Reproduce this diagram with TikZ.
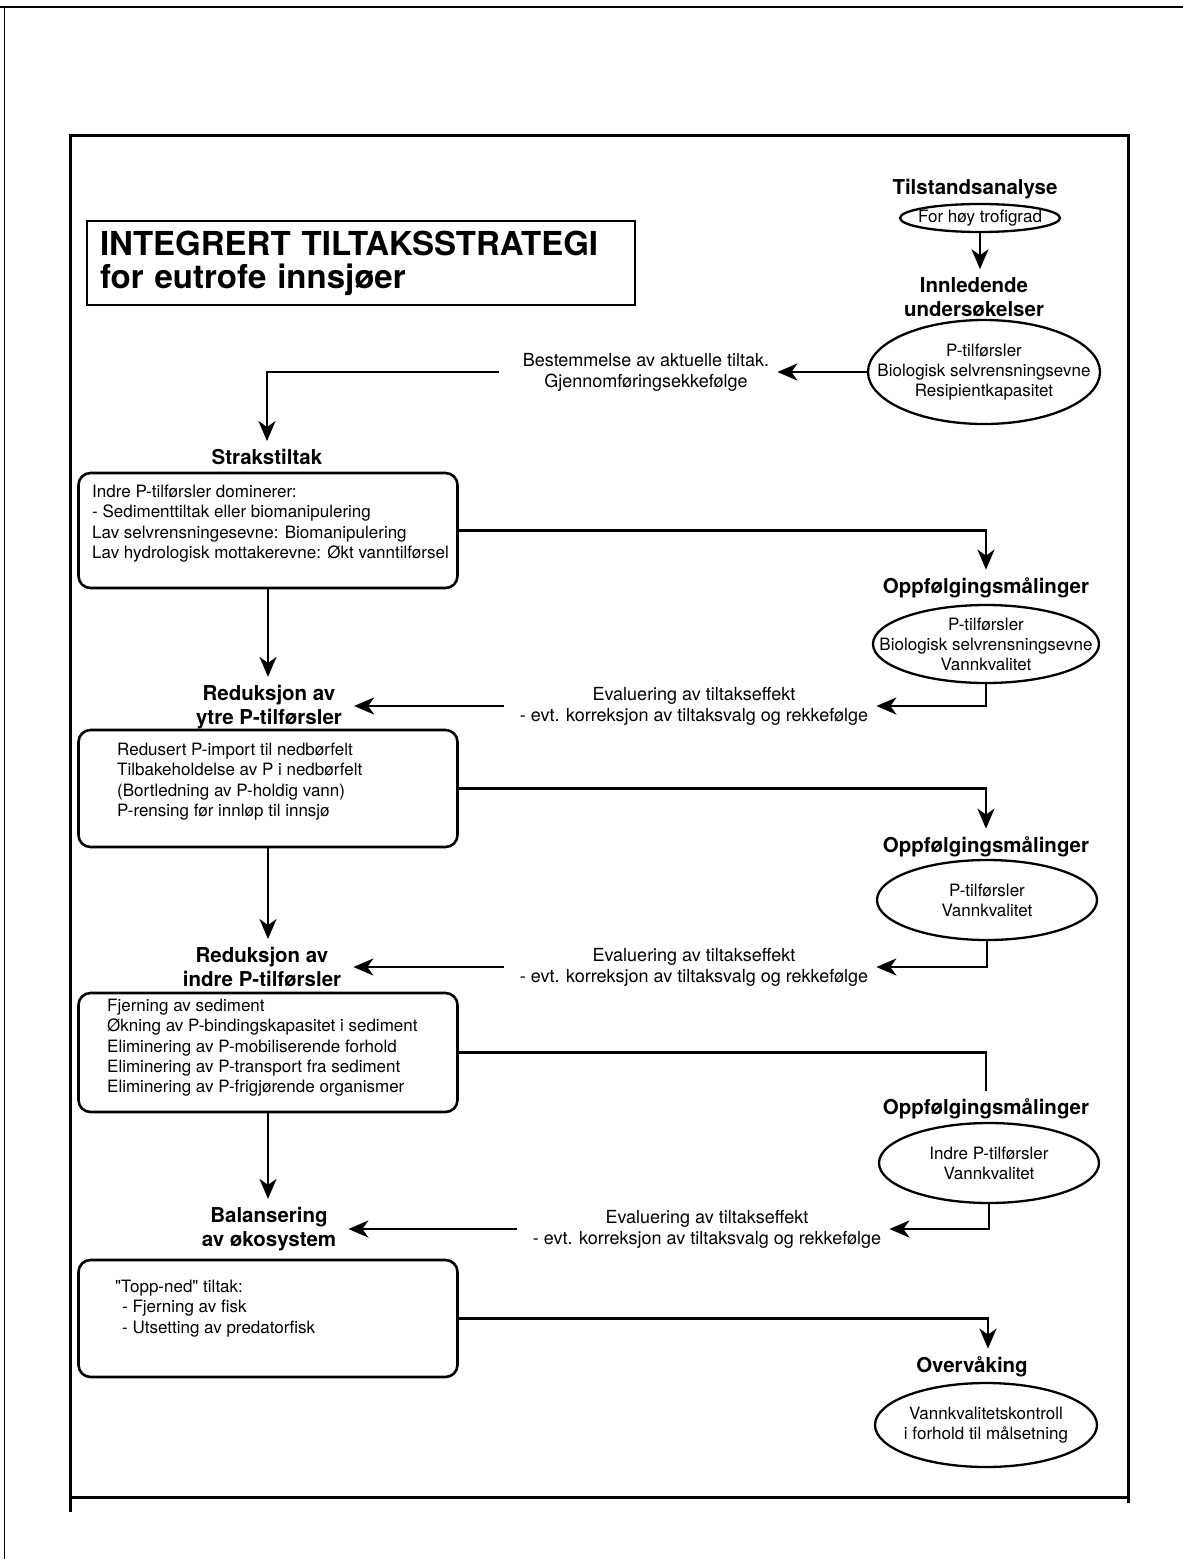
\documentclass[tikz,border=0pt]{standalone}
\usepackage{fontspec}
\setmainfont{TeX Gyre Heros}
\usetikzlibrary{arrows.meta,shapes.geometric}

\tikzset{
  conn/.style={line width=2.4pt},
  arr/.style={conn,-{Stealth[length=20pt,width=17pt,inset=6pt]}},
  ramme/.style={line width=3pt},
  kopf/.style={font=\bfseries\fontsize{20.5}{24}\selectfont, align=center, inner xsep=12pt, inner ysep=8pt},
  oval/.style={draw, ellipse, line width=2.3pt, inner sep=0pt},
  ovaltext/.style={align=center, inner sep=0pt, font=\fontsize{17}{20}\selectfont},
  tiltak/.style={draw, rounded corners=12pt, line width=2.6pt, minimum width=379pt},
  liste/.style={align=left, anchor=north west, inner sep=0pt, font=\fontsize{17}{20.3}\selectfont},
  merknad/.style={align=center, inner xsep=8pt, font=\fontsize{18}{21}\selectfont},
  tittel/.style={draw, line width=2pt, anchor=north west, minimum width=548pt, minimum height=84pt,
    text width=522pt, inner xsep=13pt, align=left, font=\bfseries\fontsize{33}{33}\selectfont}
}

\begin{document}
\begin{tikzpicture}[x=1pt,y=-1pt]
\useasboundingbox (0,0) rectangle (1183,1559);

% page and frame
\draw[line width=1.4pt] (0,7) -- (1183,7);
\draw[line width=1pt] (4,7) -- (4,1559);
\draw[ramme] (70,1512) -- (70,135) -- (1128,135) -- (1128,1503);
\draw[ramme] (70,1497) -- (1128,1497);

\node[tittel] (tittel) at (86,220) {INTEGRERT TILTAKSSTRATEGI\\for eutrofe innsjøer};

% right column
\node[kopf] (tilst) at (975,189) {Tilstandsanalyse};
\node[oval, minimum width=160pt, minimum height=28pt] (trofi) at (980,218) {};
\node[ovaltext] (trofit) at (trofi) {For høy trofigrad};
\node[kopf] (innl) at (974,297) {Innledende\\undersøkelser};
\node[oval, minimum width=232pt, minimum height=104pt] (innlo) at (984,372) {};
\node[ovaltext] (innlt) at (innlo) {P-tilførsler\\Biologisk selvrensningsevne\\Resipientkapasitet};
\node[merknad] (bestem) at (646,372) {Bestemmelse av aktuelle tiltak.\\Gjennomføringsekkefølge};

\node[kopf] (oppf1) at (986,588) {Oppfølgingsmålinger};
\node[oval, minimum width=226pt, minimum height=78pt] (oppf1o) at (986,644) {};
\node[ovaltext] (oppf1t) at (oppf1o) {P-tilførsler\\Biologisk selvrensningsevne\\Vannkvalitet};
\node[merknad] (eval1) at (694,706) {Evaluering av tiltakseffekt\\- evt. korreksjon av tiltaksvalg og rekkefølge};

\node[kopf] (oppf2) at (986,847) {Oppfølgingsmålinger};
\node[oval, minimum width=220pt, minimum height=80pt] (oppf2o) at (987,900) {};
\node[ovaltext] (oppf2t) at (oppf2o) {P-tilførsler\\Vannkvalitet};
\node[merknad] (eval2) at (694,967) {Evaluering av tiltakseffekt\\- evt. korreksjon av tiltaksvalg og rekkefølge};

\node[kopf] (oppf3) at (986,1109) {Oppfølgingsmålinger};
\node[oval, minimum width=220pt, minimum height=80pt] (oppf3o) at (989,1163) {};
\node[ovaltext] (oppf3t) at (oppf3o) {Indre P-tilførsler\\Vannkvalitet};
\node[merknad] (eval3) at (707,1229) {Evaluering av tiltakseffekt\\- evt. korreksjon av tiltaksvalg og rekkefølge};

\node[kopf] (overv) at (972,1367) {Overvåking};
\node[oval, minimum width=222pt, minimum height=84pt] (overvo) at (986,1425) {};
\node[ovaltext] (overvt) at (overvo) {Vannkvalitetskontroll\\i forhold til målsetning};

% left column
\node[kopf] (strakh) at (267,457) {Strakstiltak};
\node[tiltak, minimum height=115pt] (strak) at (268,530.5) {};
\node[liste] (strakt) at (92,485) {Indre P-tilførsler dominerer:\\
  - Sedimenttiltak eller biomanipulering\\
  Lav selvrensningesevne: Biomanipulering\\
  Lav hydrologisk mottakerevne: Økt vanntilførsel};

\node[kopf] (red1) at (269,707) {Reduksjon av\\ytre P-tilførsler};
\node[tiltak, minimum height=117pt] (ytre) at (268,788.5) {};
\node[liste] (ytret) at (117,743) {Redusert P-import til nedbørfelt\\
  Tilbakeholdelse av P i nedbørfelt\\
  (Bortledning av P-holdig vann)\\
  P-rensing før innløp til innsjø};

\node[kopf] (red2) at (262,967) {Reduksjon av\\indre P-tilførsler};
\node[tiltak, minimum height=119pt] (indre) at (268,1052.5) {};
\node[liste] (indret) at (107,999) {Fjerning av sediment\\
  Økning av P-bindingskapasitet i sediment\\
  Eliminering av P-mobiliserende forhold\\
  Eliminering av P-transport fra sediment\\
  Eliminering av P-frigjørende organismer};

\node[kopf] (bal) at (269,1229) {Balansering\\av økosystem};
\node[tiltak, minimum height=117pt] (topp) at (268,1318.5) {};
\node[liste] (toppt) at (115,1280) {\textquotedbl Topp-ned\textquotedbl{} tiltak:\\
  \hspace*{7pt}- Fjerning av fisk\\
  \hspace*{7pt}- Utsetting av predatorfisk};

% connectors
\draw[arr] (trofi.south) -- (trofi.south |- innl.north);
\draw[arr] (innlo.west) -- (innlo.west -| bestem.east);
\draw[arr] ([xshift=-16pt]bestem.west) -| (strakh.north);

\draw[arr] (strak.east) -| (oppf1.north);
\draw[arr] (strak.south) -- (strak.south |- red1.north);
\draw[arr] (oppf1o.south) |- (eval1.east);
\draw[arr] ([xshift=-8pt]eval1.west) -- (eval1.west -| red1.east);

\draw[arr] (ytre.east) -| (oppf2.north);
\draw[arr] (ytre.south) -- (ytre.south |- red2.north);
\draw[arr] (oppf2o.south) |- (eval2.east);
\draw[arr] ([xshift=-8pt]eval2.west) -- (eval2.west -| red2.east);

\draw[conn] (indre.east) -| (oppf3.north);
\draw[arr] (indre.south) -- (indre.south |- bal.north);
\draw[arr] (oppf3o.south) |- (eval3.east);
\draw[arr] ([xshift=-8pt]eval3.west) -- (eval3.west -| bal.east);

\draw[arr] (topp.east) -| ([xshift=16pt]overv.north);
\end{tikzpicture}
\end{document}
